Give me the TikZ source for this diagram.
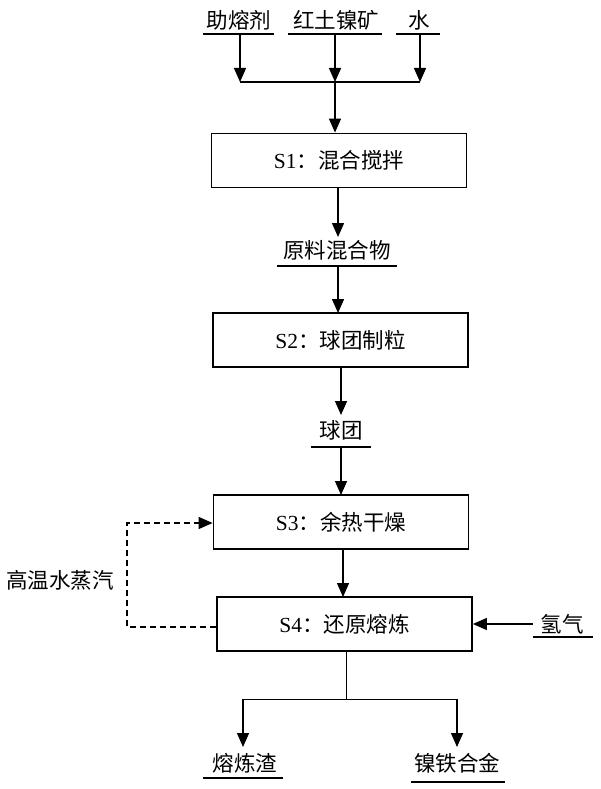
\documentclass[tikz,border=0pt]{standalone}
\usepackage{fontspec}
\setmainfont{Liberation Serif}
\newfontfamily\cjk{Noto Sans CJK SC}
\usetikzlibrary{arrows.meta}
\begin{document}
\begin{tikzpicture}[x=1pt,y=-1pt,
  every node/.style={inner sep=0pt,font=\fontsize{21.5}{21.5}\selectfont},
  stepbox/.style={draw,line width=1.8pt,minimum width=255pt,minimum height=54pt},
  lbl/.style={font=\cjk\fontsize{21.5}{21.5}\selectfont},
  arr/.style={line width=1.4pt,-{Triangle[width=12pt,length=14pt]}},
  ln/.style={line width=1.4pt},
  uline/.style={line width=1.2pt}]
\useasboundingbox (0,0) rectangle (600,789);
% inputs
\node[lbl] (fl) at (239,20) {助熔剂};
\node[lbl] (ore) at (336,20) {红土镍矿};
\node[lbl] (wa) at (419,20) {水};
\draw[uline] (203,34) coordinate (fla) -- (274,34);
\draw[uline] (288,34) coordinate (orea) -- (382,34);
\draw[uline] (396,34) coordinate (waa) -- (440,34);
\coordinate (fl1) at (240,34); \coordinate (fl2) at (240,82);
\coordinate (or1) at (335,34); \coordinate (or2) at (335,82);
\coordinate (wa1) at (420,34); \coordinate (wa2) at (420,82);
\draw[arr] (fl1) -- (fl2);
\draw[arr] (or1) -- (or2);
\draw[arr] (wa1) -- (wa2);
\draw[ln] (fl2) -- (wa2);
% boxes
\node[stepbox] (s1) at (339,160.5) {S1\cjk：混合搅拌};
\node[stepbox] (s2) at (340.5,340) {S2\cjk：球团制粒};
\node[stepbox] (s3) at (341,522) {S3\cjk：余热干燥};
\node[stepbox] (s4) at (344.5,624) {S4\cjk：还原熔炼};
\draw[arr] (or2) -- (or2 |- s1.north);
% mixture
\node[lbl] (mix) at (337,250) {原料混合物};
\draw[uline] (277,266) coordinate (mixl) -- (397,266) coordinate (mixr);
\draw[arr] (s1.south -| 338,0) -- (338,237);
\draw[arr] (338,266) -- (338,313);
% pellets
\node[lbl] (pel) at (341,430) {球团};
\draw[uline] (311,447) -- (371,447);
\draw[arr] (341,367) -- (341,415);
\draw[arr] (341,447) -- (341,495);
\draw[arr] (343,549) -- (343,597);
% steam loop
\coordinate (d1) at (127,627);
\coordinate (d2) at (127,523);
\draw[line width=1.3pt,dashed,dash pattern=on 6pt off 4pt,-{Triangle[width=12pt,length=14pt]}]
  (s4.west |- d1) -- (d1) -- (d2) -- (s3.west |- d2);
\node[lbl] (steam) at (60,580) {高温水蒸汽};
% hydrogen
\node[lbl] (h2) at (562,624) {氢气};
\draw[uline] (533,637) -- (593,637);
\draw[arr] (533,624) -- (s4.east |- 0,624);
% outputs
\coordinate (b0) at (346,651);
\coordinate (b1) at (346,699);
\coordinate (bl) at (243,699);
\coordinate (br) at (457,699);
\draw[line width=0.9pt] (b0) -- (b1);
\draw[line width=1pt] (bl) -- (br);
\draw[arr] (bl) -- (243,747);
\draw[arr] (br) -- (457,747);
\node[lbl] (slag) at (245,763) {熔炼渣};
\draw[uline] (203,778) -- (283,778);
\node[lbl] (alloy) at (457,763) {镍铁合金};
\draw[uline] (411,782) -- (505,782);
\end{tikzpicture}
\end{document}
